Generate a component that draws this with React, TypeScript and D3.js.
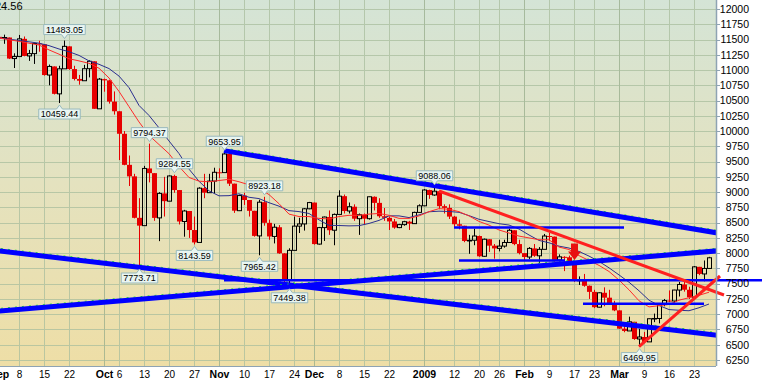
import React from 'react';
import * as d3 from 'd3';

// ---------- DATA ----------
const monthDays: [string, number[]][] = [
  ['2008-09', [2, 3, 4, 5, 8, 9, 10, 11, 12, 15, 16, 17, 18, 19, 22, 23, 24, 25, 26, 29, 30]],
  ['2008-10', [1, 2, 3, 6, 7, 8, 9, 10, 13, 14, 15, 16, 17, 20, 21, 22, 23, 24, 27, 28, 29, 30, 31]],
  ['2008-11', [3, 4, 5, 6, 7, 10, 11, 12, 13, 14, 17, 18, 19, 20, 21, 24, 25, 26, 28]],
  ['2008-12', [1, 2, 3, 4, 5, 8, 9, 10, 11, 12, 15, 16, 17, 18, 19, 22, 23, 24, 26, 29, 30, 31]],
  ['2009-01', [2, 5, 6, 7, 8, 9, 12, 13, 14, 15, 16, 20, 21, 22, 23, 26, 27, 28, 29, 30]],
  ['2009-02', [2, 3, 4, 5, 6, 9, 10, 11, 12, 13, 17, 18, 19, 20, 23, 24, 25, 26, 27]],
  ['2009-03', [2, 3, 4, 5, 6, 9, 10, 11, 12, 13, 16, 17, 18, 19, 20, 23, 24, 25, 26]],
];
const dates: string[] = monthDays.flatMap(([m, ds]) => ds.map((d) => `${m}-${String(d).padStart(2, '0')}`));

const opens = [
  11544, 11517, 11533, 11188, 11221, 11511, 11231, 11269, 11434, 11422, 10918, 11059, 10610, 11020, 11388, 11016, 10854, 10825, 11022, 11143, 10365,
  10851, 10831, 10483, 10325, 9956, 9447, 9258, 8579, 8451, 9388, 9311, 8578, 8979, 8852, 9265, 9034, 8519, 8691, 8379, 8176, 9065, 8991, 9181,
  9325, 9320, 9625, 9139, 8696, 8944, 8871, 8694, 8283, 8835, 8497, 8274, 8425, 7997, 7552, 8046, 8443, 8479, 8727,
  8829, 8149, 8419, 8592, 8376, 8635, 8934, 8691, 8761, 8565, 8630, 8565, 8924, 8824, 8605, 8579, 8520, 8419, 8468, 8516, 8484, 8668,
  8776, 9035, 8953, 9015, 8770, 8742, 8599, 8474, 8449, 8200, 8212, 8281, 7949, 8228, 8123, 8078, 8116, 8175, 8375, 8149,
  8001, 7937, 8078, 7957, 8063, 8281, 8271, 7889, 7940, 7933, 7850, 7553, 7556, 7466, 7366, 7115, 7351, 7271, 7182,
  7063, 6763, 6726, 6876, 6594, 6627, 6547, 6926, 6930, 7170, 7224, 7217, 7396, 7487, 7401, 7278, 7776, 7660, 7750,
];
const highs = [
  11790, 11580, 11533, 11274, 11575, 11550, 11330, 11440, 11480, 11422, 11090, 11059, 11070, 11483.05, 11390, 11070, 10920, 11085, 11160, 11143, 10870,
  10860, 10840, 10650, 10325, 10000, 9600, 9300, 8901, 9430, 9794.37, 9311, 9000, 9250, 9275, 9284.55, 9034, 8710, 8691, 8600, 9080, 9300, 9300, 9400,
  9390, 9653.95, 9625, 9139, 8960, 8990, 8871, 8694, 8876, 8923.18, 8550, 8480, 8460, 8000, 8080, 8600, 8580, 8740, 8840,
  8829, 8430, 8600, 8700, 8650, 9030, 8960, 8830, 8800, 8650, 8650, 8930, 8930, 8900, 8740, 8600, 8560, 8480, 8530, 8530, 8680, 8800,
  9050, 9040, 9088.06, 9015, 8800, 8800, 8610, 8550, 8449, 8300, 8400, 8290, 8240, 8230, 8150, 8220, 8220, 8400, 8375, 8220,
  8001, 8100, 8150, 8100, 8315, 8330, 8271, 7980, 7950, 7960, 7850, 7620, 7660, 7470, 7400, 7360, 7440, 7400, 7220,
  7063, 6870, 6960, 6876, 6760, 6710, 6930, 7010, 7180, 7250, 7390, 7400, 7530, 7540, 7450, 7790, 7776, 7880, 7940,
];
const lows = [
  11480, 11430, 11180, 11033, 11221, 11225, 11150, 11100, 11300, 10908, 10750, 10600, 10459.44, 11020, 11005, 10830, 10760, 10825, 10880, 10365, 10365,
  10645, 10450, 10270, 9525, 9440, 9100, 8570, 7773.71, 8451, 9160, 8530, 8197, 8600, 8850, 8990, 8470, 8270, 8250, 8143.59, 8176, 8900, 8990, 8980,
  9230, 9320, 9100, 8660, 8690, 8790, 8600, 8270, 7965.42, 8450, 8220, 8160, 7990, 7510, 7449.38, 8046, 8330, 8370, 8720,
  8140, 8140, 8200, 8300, 8130, 8635, 8650, 8650, 8530, 8300, 8470, 8550, 8700, 8580, 8530, 8380, 8400, 8410, 8450, 8380, 8480, 8660,
  8770, 8890, 8940, 8720, 8650, 8560, 8420, 8390, 8180, 7990, 8130, 7940, 7940, 8020, 7910, 8030, 8090, 8175, 8130, 7980,
  7870, 7900, 7940, 7840, 8060, 8200, 7860, 7860, 7706, 7840, 7530, 7480, 7450, 7250, 7100, 7110, 7130, 7160, 7050,
  6760, 6705, 6726, 6580, 6469.95, 6530, 6547, 6870, 6850, 7130, 7200, 7190, 7290, 7370, 7250, 7278, 7640, 7540, 7750,
];
const closes = [
  11517, 11533, 11188, 11221, 11511, 11231, 11269, 11434, 11422, 10918, 11059, 10610, 11020, 11388, 11016, 10854, 10825, 11022, 11143, 10365, 10851,
  10831, 10483, 10325, 9956, 9447, 9258, 8579, 8451, 9388, 9311, 8578, 8979, 8852, 9265, 9034, 8519, 8691, 8379, 8176, 9065, 8991, 9181, 9325,
  9320, 9625, 9139, 8696, 8944, 8871, 8694, 8283, 8835, 8497, 8274, 8425, 7997, 7552, 8046, 8443, 8479, 8727, 8829,
  8149, 8419, 8592, 8376, 8635, 8934, 8691, 8761, 8565, 8630, 8565, 8924, 8824, 8605, 8579, 8520, 8419, 8468, 8516, 8484, 8668, 8776,
  9035, 8953, 9015, 8770, 8742, 8599, 8474, 8449, 8200, 8212, 8281, 7949, 8228, 8123, 8078, 8116, 8175, 8375, 8149, 8001,
  7937, 8078, 7957, 8063, 8281, 8271, 7889, 7940, 7933, 7850, 7553, 7556, 7466, 7366, 7115, 7351, 7271, 7182, 7063,
  6763, 6726, 6876, 6594, 6627, 6547, 6926, 6930, 7170, 7224, 7217, 7396, 7487, 7401, 7278, 7776, 7660, 7750, 7924.56,
];

// moving averages (sampled)
const maDates = [
  '2008-09-02', '2008-09-08', '2008-09-12', '2008-09-16', '2008-09-18', '2008-09-22', '2008-09-24', '2008-09-26', '2008-09-30',
  '2008-10-02', '2008-10-06', '2008-10-08', '2008-10-10', '2008-10-14', '2008-10-16', '2008-10-20', '2008-10-22', '2008-10-24', '2008-10-28', '2008-10-30',
  '2008-11-03', '2008-11-05', '2008-11-07', '2008-11-11', '2008-11-13', '2008-11-17', '2008-11-19', '2008-11-21', '2008-11-25', '2008-11-28',
  '2008-12-02', '2008-12-04', '2008-12-08', '2008-12-10', '2008-12-12', '2008-12-16', '2008-12-18', '2008-12-22', '2008-12-24', '2008-12-29', '2008-12-31',
  '2009-01-05', '2009-01-07', '2009-01-09', '2009-01-13', '2009-01-15', '2009-01-20', '2009-01-22', '2009-01-26', '2009-01-28', '2009-01-30',
  '2009-02-03', '2009-02-05', '2009-02-09', '2009-02-11', '2009-02-13', '2009-02-18', '2009-02-20', '2009-02-24', '2009-02-26',
  '2009-03-02', '2009-03-04', '2009-03-06', '2009-03-10', '2009-03-12', '2009-03-16', '2009-03-18', '2009-03-20', '2009-03-24', '2009-03-26',
];
const blueMA = [
  11525, 11485, 11440, 11400, 11345, 11300, 11240, 11150, 11094,
  11024, 10901, 10711, 10420, 10256, 10053, 9838, 9632, 9377, 9178, 9021,
  8939, 8942, 8973, 8916, 8894, 8827, 8770, 8697, 8681, 8650,
  8546, 8456, 8453, 8447, 8451, 8487, 8537, 8612, 8611, 8583, 8627,
  8678, 8688, 8683, 8669, 8615, 8555, 8518, 8483, 8461, 8396,
  8298, 8209, 8170, 8115, 8084, 8028, 7952, 7865, 7760,
  7644, 7524, 7384, 7230, 7143, 7076, 7065, 7057, 7106, 7167,
];
const redMA = [
  11525, 11470, 11410, 11330, 11260, 11185, 11150, 11110, 11030,
  10870, 10650, 10400, 10150, 9930, 9780, 9630, 9420, 9240, 9180, 9170,
  9190, 9210, 9170, 9120, 9060, 8960, 8810, 8640, 8600, 8600,
  8570, 8560, 8600, 8620, 8620, 8640, 8650, 8620, 8570, 8570, 8610,
  8680, 8730, 8720, 8680, 8610, 8520, 8460, 8380, 8330, 8280,
  8250, 8220, 8220, 8100, 8060, 7960, 7880, 7800, 7700,
  7560, 7400, 7220, 7120, 7140, 7160, 7230, 7270, 7310, 7360,
];

const yTicks = d3.range(6250, 12001, 250);
const xTickDates = [
  '2008-09-02', '2008-09-08', '2008-09-15', '2008-09-22', '2008-10-01', '2008-10-06', '2008-10-13', '2008-10-20', '2008-10-27',
  '2008-11-03', '2008-11-10', '2008-11-17', '2008-11-24', '2008-12-01', '2008-12-08', '2008-12-15', '2008-12-22',
  '2009-01-02', '2009-01-12', '2009-01-20', '2009-01-26', '2009-02-02', '2009-02-09', '2009-02-17', '2009-02-23',
  '2009-03-02', '2009-03-09', '2009-03-16', '2009-03-23',
];
const xTickLabels = [
  'Sep', '8', '15', '22', 'Oct', '6', '13', '20', '27',
  'Nov', '10', '17', '24', 'Dec', '8', '15', '22',
  '2009', '12', '20', '26', 'Feb', '9', '17', '23',
  'Mar', '9', '16', '23',
];

const calloutDates = ['2008-09-19', '2008-09-18', '2008-10-14', '2008-10-21', '2008-11-04', '2008-11-14', '2008-10-10', '2008-10-27', '2008-11-13', '2008-11-21', '2009-01-06', '2009-03-06'];
const calloutValues = [11483.05, 10459.44, 9794.37, 9284.55, 9653.95, 8923.18, 7773.71, 8143.59, 7965.42, 7449.38, 9088.06, 6469.95];
const calloutSides = ['high', 'low', 'high', 'high', 'high', 'high', 'low', 'low', 'low', 'low', 'high', 'low'];

// trend lines: [startIndex, startValue, endIndex, endValue] (index = trading-day position)
const channelLines = [
  [45, 9680, 146, 8300],
  [-1, 8047, 146, 6634],
  [-1, 7045, 146, 8054],
];
const levelLines = [
  [45, 7555, 152.6, 7555],
  [91, 8420, 125, 8420],
  [92, 7878, 113.2, 7878],
  [116.8, 7172, 141, 7172],
];
const redTrendLines = [
  [88, 9018, 145, 7315],
  [128, 6470, 144.2, 7626],
];
const arrowDate = '2009-02-17';
const arrowValues = [8160, 7888];
const headerValue = '7924.56';

// ---------- CHART ----------
const W = 762;
const H = 381;
const PR = 716;
const PB = 366;
const FONT = 'Liberation Sans, Arial, sans-serif';

export default function App() {
  const x = d3.scaleLinear().domain([0, dates.length - 1]).range([-1, 709]);
  const y = d3.scaleLinear().domain([6250, 12000]).range([360, 9]);
  const idx = (d: string) => dates.indexOf(d);

  const maLine = d3
    .line<number>()
    .x((_, j) => x(idx(maDates[j])))
    .y((v) => y(v));

  const tw = (s: string) => s.split('').reduce((a, ch) => a + (ch === '.' ? 2.5 : 5.0), 0);

  const monthStart = new Set<string>();
  dates.forEach((d, k) => {
    if (k === 0 || d.slice(0, 7) !== dates[k - 1].slice(0, 7)) monthStart.add(d);
  });

  const RED = '#e60000';

  return (
    <svg width={W} height={H} style={{ position: 'absolute', left: 0, top: 0, background: '#fff' }} fontFamily={FONT}>
      <defs>
        <linearGradient id="bg" x1="0" y1="0" x2="0" y2="1">
          <stop offset="0" stopColor="#d4e4d6" />
          <stop offset="0.5" stopColor="#e4e2bf" />
          <stop offset="1" stopColor="#eedea6" />
        </linearGradient>
        <clipPath id="plot">
          <rect x={0} y={0} width={PR + 1} height={PB} />
        </clipPath>
      </defs>
      <rect x={0} y={0} width={PR} height={PB} fill="url(#bg)" />

      {/* grid */}
      <g stroke="#a9be9e" strokeWidth={1} opacity={0.75}>
        {yTicks.map((t) => (
          <line key={t} x1={0} x2={PR} y1={Math.round(y(t)) + 0.5} y2={Math.round(y(t)) + 0.5} />
        ))}
        {xTickDates.map((d) => {
          const xx = Math.round(x(idx(d))) + 0.5;
          return <line key={d} x1={xx} x2={xx} y1={0} y2={PB} stroke={monthStart.has(d) ? '#97ad8b' : '#a9be9e'} />;
        })}
      </g>

      <g clipPath="url(#plot)">
        {/* candles */}
        {dates.map((d, k) => {
          const cx = Math.round(x(k));
          const o = opens[k];
          const c = closes[k];
          const top = y(Math.max(o, c));
          const bot = y(Math.min(o, c));
          if (c >= o) {
            return (
              <g key={d} stroke="#000" strokeWidth={1}>
                <line x1={cx + 0.5} x2={cx + 0.5} y1={y(highs[k])} y2={top} />
                <line x1={cx + 0.5} x2={cx + 0.5} y1={bot} y2={y(lows[k])} />
                <rect x={cx - 1.5} y={top} width={4} height={Math.max(bot - top, 0.5)} fill="none" />
              </g>
            );
          }
          return (
            <g key={d}>
              <line x1={cx + 0.5} x2={cx + 0.5} y1={y(highs[k])} y2={y(lows[k])} stroke={RED} strokeWidth={1} />
              <rect x={cx - 2} y={top} width={5} height={Math.max(bot - top, 1)} fill={RED} />
            </g>
          );
        })}

        {/* moving averages */}
        <path d={maLine(blueMA) || ''} fill="none" stroke="#2b2f8f" strokeWidth={1} />
        <path d={maLine(redMA) || ''} fill="none" stroke="#ff2a2a" strokeWidth={1} />

        {/* channel lines */}
        {channelLines.map((l, k) => (
          <g key={k}>
            <line x1={x(l[0])} y1={y(l[1]) - 2.6} x2={x(l[2])} y2={y(l[3]) - 2.6} stroke="#22ee22" strokeWidth={1} strokeDasharray="2 5" />
            <line x1={x(l[0])} y1={y(l[1])} x2={x(l[2])} y2={y(l[3])} stroke="#0000ff" strokeWidth={5} />
          </g>
        ))}
      </g>

      {/* level lines */}
      {levelLines.map((l, k) => (
        <line key={k} x1={x(l[0])} y1={y(l[1])} x2={x(l[2])} y2={y(l[3])} stroke="#0000ff" strokeWidth={2.5} />
      ))}

      {/* red trend lines */}
      {redTrendLines.map((l, k) => (
        <line key={k} x1={x(l[0])} y1={y(l[1])} x2={x(l[2])} y2={y(l[3])} stroke="#ff2020" strokeWidth={3} />
      ))}

      {/* red arrow */}
      {(() => {
        const ax = x(idx(arrowDate)) + 0.5;
        const yt = y(arrowValues[0]);
        const yb = y(arrowValues[1]);
        const yh = yb - 8.5;
        return (
          <path
            d={`M${ax - 3.5},${yt} H${ax + 3.5} V${yh} H${ax + 6.5} L${ax},${yb} L${ax - 6.5},${yh} H${ax - 3.5} Z`}
            fill="#e81010"
          />
        );
      })()}

      {/* callouts */}
      {calloutDates.map((d, k) => {
        const cx = x(idx(d)) + 0.5;
        const label = calloutValues[k].toFixed(2);
        const w = tw(label) + 4;
        const yy = y(calloutValues[k]);
        const high = calloutSides[k] === 'high';
        const tip = high ? yy - 2 : yy + 2;
        const b1 = high ? tip - 4 : tip + 4;
        const b2 = high ? b1 - 10 : b1 + 10;
        const L = cx - w / 2;
        const R = cx + w / 2;
        const path = high
          ? `M${L},${b2} H${R} V${b1} H${cx + 3} L${cx},${tip} L${cx - 3},${b1} H${L} Z`
          : `M${L},${b2} H${R} V${b1} H${cx + 3} L${cx},${tip} L${cx - 3},${b1} H${L} Z`;
        const textY = high ? b2 + 8.3 : b1 + 8.3;
        return (
          <g key={d + k}>
            <path d={path} fill="#e9f5f1" stroke="#98b9bd" strokeWidth={1} />
            <text x={cx} y={textY} fontSize={9} textAnchor="middle" fill="#000">
              {label}
            </text>
          </g>
        );
      })}

      {/* right axis */}
      <line x1={PR + 0.5} x2={PR + 0.5} y1={0} y2={PB} stroke="#8ea3b3" strokeWidth={1.5} />
      {yTicks.map((t) => (
        <g key={t}>
          <line x1={PR + 1} x2={PR + 4} y1={Math.round(y(t)) + 0.5} y2={Math.round(y(t)) + 0.5} stroke="#8ea3b3" />
          <text x={749} y={y(t)} dy="0.36em" fontSize={10.5} textAnchor="end" fill="#000">
            {t}
          </text>
        </g>
      ))}

      {/* bottom axis */}
      <line x1={0} x2={PR} y1={PB + 0.5} y2={PB + 0.5} stroke="#8ea3b3" strokeWidth={1} />
      {xTickDates.map((d, k) => {
        const bold = monthStart.has(d);
        return (
          <text
            key={d}
            x={x(idx(d)) + 0.5}
            y={377.5}
            fontSize={bold ? 10.5 : 10}
            fontWeight={bold ? 'bold' : 'normal'}
            textAnchor="middle"
            fill="#000"
          >
            {xTickLabels[k]}
          </text>
        );
      })}

      {/* header value (clipped at left edge) */}
      <text x={22.5} y={10} fontSize={11} textAnchor="end" fill="#000">
        {headerValue}
      </text>
    </svg>
  );
}
